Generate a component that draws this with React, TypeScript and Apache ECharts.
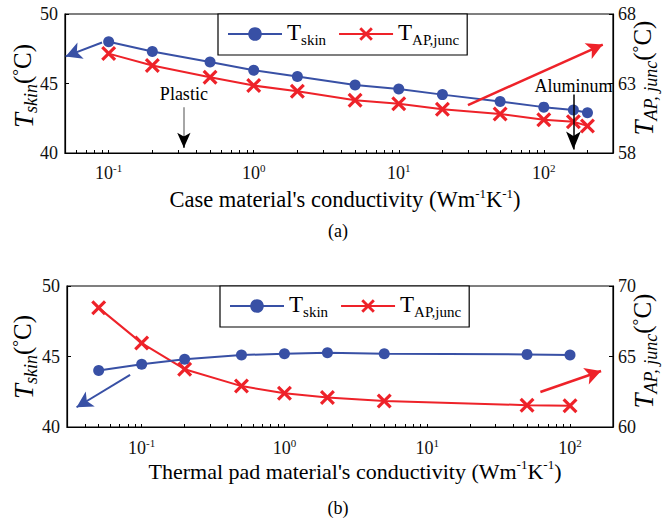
import React, { useEffect, useRef } from 'react';
import * as echarts from 'echarts';

// ---- data ----
const caseK = [0.1, 0.2, 0.5, 1, 2, 5, 10, 20, 50, 100, 160, 200];
const caseSkin = [48.0, 47.3, 46.55, 45.95, 45.5, 44.9, 44.6, 44.2, 43.7, 43.3, 43.1, 42.9];
const caseJunc = [65.15, 64.3, 63.45, 62.85, 62.45, 61.8, 61.55, 61.15, 60.8, 60.4, 60.25, 59.95];

const padK = [0.05, 0.1, 0.2, 0.5, 1, 2, 5, 50, 100];
const padSkin = [44.0, 44.45, 44.8, 45.1, 45.2, 45.27, 45.2, 45.15, 45.1];
const padJunc = [68.45, 65.95, 64.1, 62.9, 62.4, 62.1, 61.85, 61.55, 61.5];

const decadeLabels = [0.1, 1, 10, 100];
const leftTicks = [40, 45, 50];
const rightTicksA = [58, 63, 68];
const rightTicksB = [60, 65, 70];

const BLUE = '#3850A5';
const RED = '#EE2229';
const FONT = "'Liberation Serif', 'Times New Roman', serif";
const XSYM = 'path://M0,1.5L1.5,0L5,3.5L8.5,0L10,1.5L6.5,5L10,8.5L8.5,10L5,6.5L1.5,10L0,8.5L3.5,5Z';

function logTicks(min: number, max: number): number[] {
  const out: number[] = [];
  for (let k = -3; k <= 3; k++) {
    for (let m = 1; m <= 9; m++) {
      const v = parseFloat((m * Math.pow(10, k)).toPrecision(6));
      if (v > min * 1.0001 && v < max * 0.9999) out.push(v);
    }
  }
  return out;
}

const expRich = {
  b: { fontSize: 18, fontFamily: FONT, color: '#111', lineHeight: 20, verticalAlign: 'bottom' },
  e: { fontSize: 11, fontFamily: FONT, color: '#111', lineHeight: 8, verticalAlign: 'top' },
};

const xAxisFor = (gridIndex: number, min: number, max: number, margin: number) => ({
  type: 'log',
  logBase: 10,
  gridIndex,
  min,
  max,
  axisLine: { show: true, onZero: false, lineStyle: { color: '#000', width: 1.2 } },
  axisTick: {
    show: true,
    inside: true,
    length: 3,
    customValues: logTicks(min, max),
    lineStyle: { color: '#000', width: 1 },
  },
  axisLabel: {
    customValues: decadeLabels,
    margin,
    formatter: (v: number) => `{b|10}{e|${Math.round(Math.log10(v))}}`,
    rich: expRich,
  },
  splitLine: { show: false },
});

const yAxisFor = (gridIndex: number, min: number, max: number, ticks: number[], position: string) => ({
  type: 'value',
  gridIndex,
  min,
  max,
  position,
  axisLine: { show: true, onZero: false, lineStyle: { color: '#000', width: 1.2 } },
  axisTick: { show: true, inside: true, length: 4, customValues: ticks, lineStyle: { color: '#000' } },
  axisLabel: {
    customValues: ticks,
    margin: position === 'left' ? 7 : 5,
    fontSize: 18,
    fontFamily: FONT,
    color: '#111',
  },
  splitLine: { show: false },
});

const legendFor = (left: number, top: number) => ({
  data: ['Tskin', 'TAP'],
  left,
  top,
  orient: 'horizontal',
  itemWidth: 54,
  itemHeight: 17,
  itemGap: 12,
  padding: [7, 8, 8, 9],
  borderColor: '#000',
  borderWidth: 1.2,
  borderRadius: 0,
  backgroundColor: '#fff',
  selectedMode: false,
  formatter: (name: string) => (name === 'Tskin' ? '{t|T}{s|skin}' : '{t|T}{s|AP,junc}'),
  textStyle: {
    rich: {
      t: { fontSize: 23, fontFamily: FONT, color: '#000', lineHeight: 26, verticalAlign: 'top' },
      s: { fontSize: 15, fontFamily: FONT, color: '#000', lineHeight: 12, verticalAlign: 'bottom' },
    },
  },
});

const titleRich = (size: number) => ({
  n: { fontSize: size, fontFamily: FONT, fill: '#000', lineHeight: 24, verticalAlign: 'bottom' },
  e: { fontSize: 13, fontFamily: FONT, fill: '#000', lineHeight: 10, verticalAlign: 'top' },
});

const yTitleRich = {
  T: { fontSize: 27, fontStyle: 'italic', fontFamily: FONT, fill: '#000', lineHeight: 30, verticalAlign: 'top' },
  s: { fontSize: 18, fontStyle: 'italic', fontFamily: FONT, fill: '#000', lineHeight: 14, verticalAlign: 'bottom' },
  p: { fontSize: 25, fontFamily: FONT, fill: '#000', lineHeight: 30, verticalAlign: 'top' },
  d: { fontSize: 17, fontFamily: FONT, fill: '#000', lineHeight: 10, verticalAlign: 'top' },
};

const annotLabel = (text: string, distance: number) => ({
  show: true,
  position: 'start',
  formatter: text,
  distance,
  fontSize: 18,
  fontFamily: FONT,
  color: '#000',
});

export default function App() {
  const ref = useRef<HTMLDivElement>(null);

  useEffect(() => {
    if (!ref.current) return;
    const chart = echarts.init(ref.current, null, { renderer: 'svg' });

    const option: any = {
      animation: false,
      backgroundColor: '#fff',
      grid: [
        { left: 65, top: 14, width: 548, height: 139, show: true, borderColor: '#000', borderWidth: 1.2, backgroundColor: 'transparent', containLabel: false, outerBoundsMode: 'none' },
        { left: 67, top: 286, width: 546, height: 141, show: true, borderColor: '#000', borderWidth: 1.2, backgroundColor: 'transparent', containLabel: false, outerBoundsMode: 'none' },
      ],
      xAxis: [xAxisFor(0, 0.05, 300, 9), xAxisFor(1, 0.03, 200, 10)],
      yAxis: [
        yAxisFor(0, 40, 50, leftTicks, 'left'),
        yAxisFor(0, 58, 68, rightTicksA, 'right'),
        yAxisFor(1, 40, 50, leftTicks, 'left'),
        yAxisFor(1, 60, 70, rightTicksB, 'right'),
      ],
      legend: [legendFor(218, 14), legendFor(220, 286)],
      series: [
        {
          name: 'Tskin',
          type: 'line',
          xAxisIndex: 0,
          yAxisIndex: 0,
          data: caseK.map((k, i) => [k, caseSkin[i]]),
          symbol: 'circle',
          symbolSize: 11,
          lineStyle: { color: BLUE, width: 2 },
          itemStyle: { color: BLUE },
          z: 3,
          markLine: {
            silent: true,
            animation: false,
            symbol: ['none', 'arrow'],
            label: { show: false },
            data: [
              [
                { coord: [0.09, 47.95], lineStyle: { color: BLUE, width: 2, type: 'solid' }, symbol: 'none' },
                { coord: [0.0505, 46.95], symbol: 'arrow', symbolSize: [13, 16] },
              ],
              [
                { coord: [0.33, 43.3], lineStyle: { color: '#888', width: 1.5, type: 'solid' }, symbol: 'none', label: annotLabel('Plastic', 4) },
                { coord: [0.33, 41.0], symbol: 'none' },
              ],
              [
                { coord: [0.33, 41.2], lineStyle: { color: '#000', width: 1.5, type: 'solid' }, symbol: 'none' },
                { coord: [0.33, 40.38], symbol: 'arrow', symbolSize: [10, 15] },
              ],
              [
                { coord: [160, 44.2], lineStyle: { color: '#000', width: 1.5, type: 'solid' }, symbol: 'none', label: annotLabel('Aluminum', 0) },
                { coord: [160, 40.25], symbol: 'arrow', symbolSize: [11, 18] },
              ],
            ],
          },
        },
        {
          name: 'TAP',
          type: 'line',
          xAxisIndex: 0,
          yAxisIndex: 1,
          data: caseK.map((k, i) => [k, caseJunc[i]]),
          symbol: XSYM,
          symbolSize: 15,
          lineStyle: { color: RED, width: 2 },
          itemStyle: { color: RED },
          z: 2,
          markLine: {
            silent: true,
            animation: false,
            symbol: ['none', 'arrow'],
            label: { show: false },
            data: [
              [
                { coord: [30, 61.45], lineStyle: { color: RED, width: 2.5, type: 'solid' }, symbol: 'none' },
                { coord: [255, 65.8], symbol: 'arrow', symbolSize: [13, 16] },
              ],
            ],
          },
        },
        {
          name: 'Tskin',
          type: 'line',
          xAxisIndex: 1,
          yAxisIndex: 2,
          data: padK.map((k, i) => [k, padSkin[i]]),
          symbol: 'circle',
          symbolSize: 11,
          lineStyle: { color: BLUE, width: 2 },
          itemStyle: { color: BLUE },
          z: 3,
          markLine: {
            silent: true,
            animation: false,
            symbol: ['none', 'arrow'],
            label: { show: false },
            data: [
              [
                { coord: [0.083, 43.7], lineStyle: { color: BLUE, width: 2, type: 'solid' }, symbol: 'none' },
                { coord: [0.035, 41.4], symbol: 'arrow', symbolSize: [13, 16] },
              ],
            ],
          },
        },
        {
          name: 'TAP',
          type: 'line',
          xAxisIndex: 1,
          yAxisIndex: 3,
          data: padK.map((k, i) => [k, padJunc[i]]),
          symbol: XSYM,
          symbolSize: 15,
          lineStyle: { color: RED, width: 2 },
          itemStyle: { color: RED },
          z: 2,
          markLine: {
            silent: true,
            animation: false,
            symbol: ['none', 'arrow'],
            label: { show: false },
            data: [
              [
                { coord: [62, 62.48], lineStyle: { color: RED, width: 2.5, type: 'solid' }, symbol: 'none' },
                { coord: [165, 63.97], symbol: 'arrow', symbolSize: [13, 16] },
              ],
            ],
          },
        },
      ],
      graphic: [
        {
          type: 'text',
          x: 345,
          y: 199,
          style: { text: "{n|Case material's conductivity (Wm}{e|-1}{n|K}{e|-1}{n|)}", align: 'center', verticalAlign: 'middle', fill: '#000', rich: titleRich(22.5) },
        },
        {
          type: 'text',
          x: 355,
          y: 470,
          style: { text: "{n|Thermal pad material's conductivity (Wm}{e|-1}{n|K}{e|-1}{n|)}", align: 'center', verticalAlign: 'middle', fill: '#000', rich: titleRich(22) },
        },
        {
          type: 'text',
          x: 338,
          y: 231,
          style: { text: '(a)', align: 'center', verticalAlign: 'middle', fill: '#000', fontSize: 18, fontFamily: FONT },
        },
        {
          type: 'text',
          x: 338,
          y: 508,
          style: { text: '(b)', align: 'center', verticalAlign: 'middle', fill: '#000', fontSize: 18, fontFamily: FONT },
        },
        {
          type: 'text',
          x: 25,
          y: 86,
          rotation: Math.PI / 2,
          style: { text: '{T|T}{s|skin}{p|(}{d|°}{p|C)}', align: 'center', verticalAlign: 'middle', fill: '#000', rich: yTitleRich },
        },
        {
          type: 'text',
          x: 645,
          y: 78,
          rotation: Math.PI / 2,
          style: { text: '{T|T}{s|AP, junc}{p|(}{d|°}{p|C)}', align: 'center', verticalAlign: 'middle', fill: '#000', rich: yTitleRich },
        },
        {
          type: 'text',
          x: 25,
          y: 357,
          rotation: Math.PI / 2,
          style: { text: '{T|T}{s|skin}{p|(}{d|°}{p|C)}', align: 'center', verticalAlign: 'middle', fill: '#000', rich: yTitleRich },
        },
        {
          type: 'text',
          x: 645,
          y: 351,
          rotation: Math.PI / 2,
          style: { text: '{T|T}{s|AP, junc}{p|(}{d|°}{p|C)}', align: 'center', verticalAlign: 'middle', fill: '#000', rich: yTitleRich },
        },
      ],
    };

    chart.setOption(option);
    return () => chart.dispose();
  }, []);

  return (
    <div
      ref={ref}
      style={{ position: 'fixed', left: 0, top: 0, width: 669, height: 523, background: '#fff' }}
    />
  );
}
